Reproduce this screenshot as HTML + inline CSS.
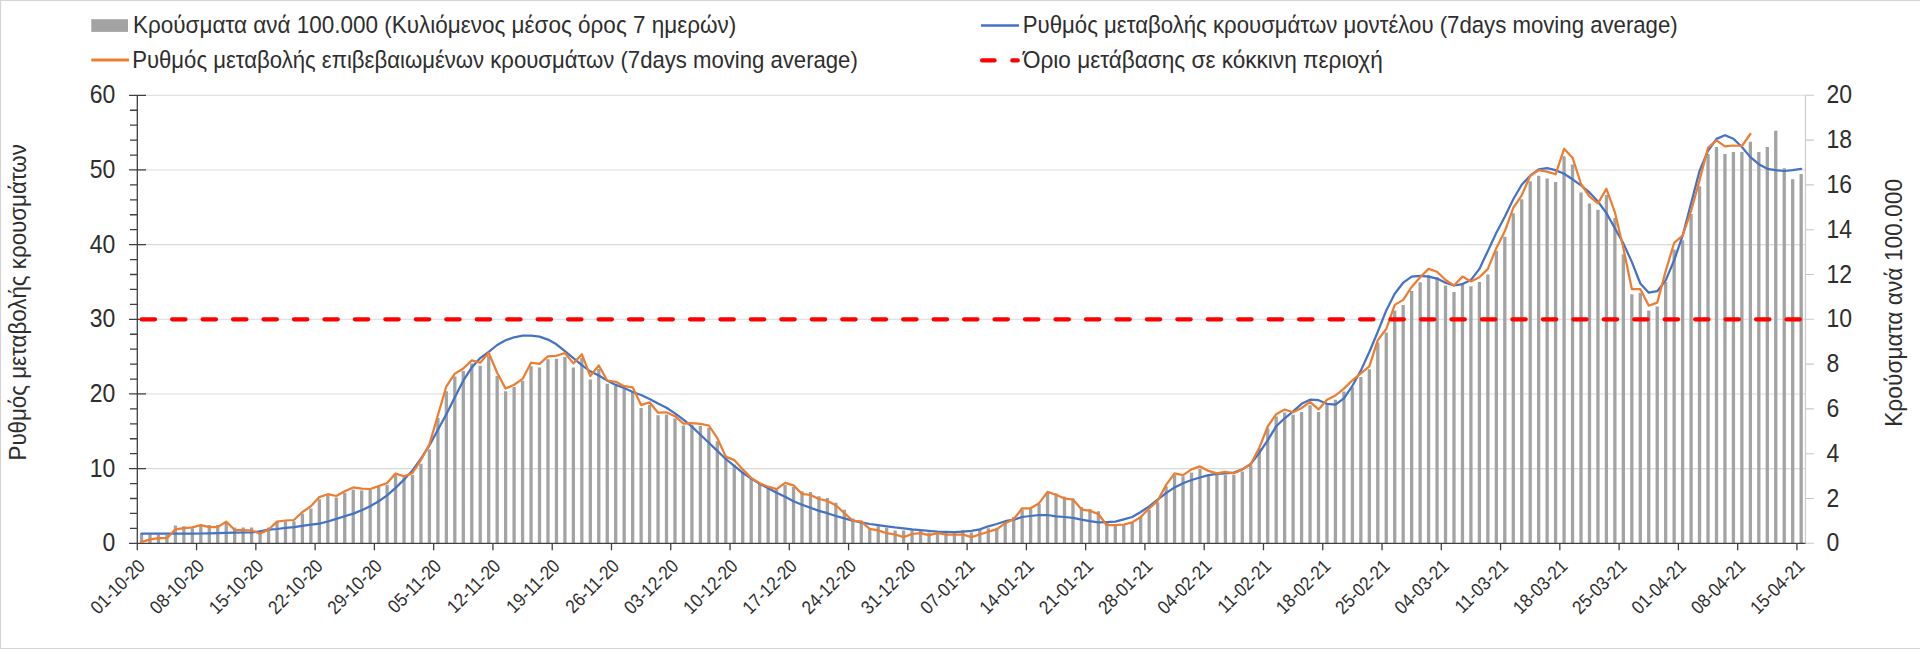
<!DOCTYPE html>
<html><head><meta charset="utf-8"><style>html,body{margin:0;padding:0;background:#fff;width:1920px;height:649px;overflow:hidden}</style></head>
<body><svg width="1920" height="649" viewBox="0 0 1920 649" style="display:block">
<rect x="0" y="0" width="1920" height="649" fill="#fff"/>
<path d="M0.5 649 V0.5 H1920" fill="none" stroke="#d4d4d4" stroke-width="1.2"/>
<path d="M0 648.5 H1920" fill="none" stroke="#d4d4d4" stroke-width="1.2"/>
<path d="M137.3 468.63H1805.4M137.3 393.97H1805.4M137.3 319.30H1805.4M137.3 244.63H1805.4M137.3 169.97H1805.4M137.3 95.30H1805.4" stroke="#d9d9d9" stroke-width="1.1" fill="none"/>
<path d="M139.88 533.60h3.3V543.3h-3.3ZM148.35 534.40h3.3V543.3h-3.3ZM156.82 534.40h3.3V543.3h-3.3ZM165.29 534.80h3.3V543.3h-3.3ZM173.75 525.60h3.3V543.3h-3.3ZM182.22 526.30h3.3V543.3h-3.3ZM190.69 528.20h3.3V543.3h-3.3ZM199.16 525.90h3.3V543.3h-3.3ZM207.62 525.10h3.3V543.3h-3.3ZM216.09 525.10h3.3V543.3h-3.3ZM224.56 523.60h3.3V543.3h-3.3ZM233.03 527.40h3.3V543.3h-3.3ZM241.49 527.40h3.3V543.3h-3.3ZM249.96 527.40h3.3V543.3h-3.3ZM258.43 530.50h3.3V543.3h-3.3ZM266.90 527.40h3.3V543.3h-3.3ZM275.36 522.00h3.3V543.3h-3.3ZM283.83 521.30h3.3V543.3h-3.3ZM292.30 521.30h3.3V543.3h-3.3ZM300.77 513.60h3.3V543.3h-3.3ZM309.23 508.50h3.3V543.3h-3.3ZM317.70 499.20h3.3V543.3h-3.3ZM326.17 495.30h3.3V543.3h-3.3ZM334.64 497.40h3.3V543.3h-3.3ZM343.10 492.70h3.3V543.3h-3.3ZM351.57 489.50h3.3V543.3h-3.3ZM360.04 490.60h3.3V543.3h-3.3ZM368.51 490.00h3.3V543.3h-3.3ZM376.97 486.90h3.3V543.3h-3.3ZM385.44 484.80h3.3V543.3h-3.3ZM393.91 474.80h3.3V543.3h-3.3ZM402.38 477.50h3.3V543.3h-3.3ZM410.84 474.80h3.3V543.3h-3.3ZM419.31 463.80h3.3V543.3h-3.3ZM427.78 449.40h3.3V543.3h-3.3ZM436.25 418.00h3.3V543.3h-3.3ZM444.71 391.30h3.3V543.3h-3.3ZM453.18 376.60h3.3V543.3h-3.3ZM461.65 370.80h3.3V543.3h-3.3ZM470.12 363.40h3.3V543.3h-3.3ZM478.58 365.70h3.3V543.3h-3.3ZM487.05 355.80h3.3V543.3h-3.3ZM495.52 376.10h3.3V543.3h-3.3ZM503.99 391.20h3.3V543.3h-3.3ZM512.45 387.00h3.3V543.3h-3.3ZM520.92 380.80h3.3V543.3h-3.3ZM529.39 366.20h3.3V543.3h-3.3ZM537.86 367.40h3.3V543.3h-3.3ZM546.32 359.30h3.3V543.3h-3.3ZM554.79 358.80h3.3V543.3h-3.3ZM563.26 357.00h3.3V543.3h-3.3ZM571.73 367.40h3.3V543.3h-3.3ZM580.19 358.10h3.3V543.3h-3.3ZM588.66 379.60h3.3V543.3h-3.3ZM597.13 369.00h3.3V543.3h-3.3ZM605.60 383.80h3.3V543.3h-3.3ZM614.06 386.10h3.3V543.3h-3.3ZM622.53 388.50h3.3V543.3h-3.3ZM631.00 391.30h3.3V543.3h-3.3ZM639.47 408.10h3.3V543.3h-3.3ZM647.93 404.70h3.3V543.3h-3.3ZM656.40 415.30h3.3V543.3h-3.3ZM664.87 414.40h3.3V543.3h-3.3ZM673.34 418.50h3.3V543.3h-3.3ZM681.80 425.50h3.3V543.3h-3.3ZM690.27 425.00h3.3V543.3h-3.3ZM698.74 425.90h3.3V543.3h-3.3ZM707.21 427.80h3.3V543.3h-3.3ZM715.67 441.20h3.3V543.3h-3.3ZM724.14 456.60h3.3V543.3h-3.3ZM732.61 464.70h3.3V543.3h-3.3ZM741.08 472.80h3.3V543.3h-3.3ZM749.54 478.60h3.3V543.3h-3.3ZM758.01 483.70h3.3V543.3h-3.3ZM766.48 489.00h3.3V543.3h-3.3ZM774.95 489.70h3.3V543.3h-3.3ZM783.41 485.10h3.3V543.3h-3.3ZM791.88 487.00h3.3V543.3h-3.3ZM800.35 491.30h3.3V543.3h-3.3ZM808.82 491.90h3.3V543.3h-3.3ZM817.28 496.20h3.3V543.3h-3.3ZM825.75 498.10h3.3V543.3h-3.3ZM834.22 502.70h3.3V543.3h-3.3ZM842.69 509.80h3.3V543.3h-3.3ZM851.15 518.60h3.3V543.3h-3.3ZM859.62 520.60h3.3V543.3h-3.3ZM868.09 528.60h3.3V543.3h-3.3ZM876.56 526.30h3.3V543.3h-3.3ZM885.02 527.80h3.3V543.3h-3.3ZM893.49 530.40h3.3V543.3h-3.3ZM901.96 530.40h3.3V543.3h-3.3ZM910.43 529.80h3.3V543.3h-3.3ZM918.89 530.90h3.3V543.3h-3.3ZM927.36 532.40h3.3V543.3h-3.3ZM935.83 532.40h3.3V543.3h-3.3ZM944.30 532.80h3.3V543.3h-3.3ZM952.76 531.30h3.3V543.3h-3.3ZM961.23 530.10h3.3V543.3h-3.3ZM969.70 532.40h3.3V543.3h-3.3ZM978.17 530.10h3.3V543.3h-3.3ZM986.64 528.30h3.3V543.3h-3.3ZM995.10 527.80h3.3V543.3h-3.3ZM1003.57 521.20h3.3V543.3h-3.3ZM1012.04 517.00h3.3V543.3h-3.3ZM1020.51 509.80h3.3V543.3h-3.3ZM1028.97 508.60h3.3V543.3h-3.3ZM1037.44 503.90h3.3V543.3h-3.3ZM1045.91 493.10h3.3V543.3h-3.3ZM1054.38 493.50h3.3V543.3h-3.3ZM1062.84 496.50h3.3V543.3h-3.3ZM1071.31 498.50h3.3V543.3h-3.3ZM1079.78 507.00h3.3V543.3h-3.3ZM1088.25 508.90h3.3V543.3h-3.3ZM1096.71 511.30h3.3V543.3h-3.3ZM1105.18 522.40h3.3V543.3h-3.3ZM1113.65 524.70h3.3V543.3h-3.3ZM1122.12 524.20h3.3V543.3h-3.3ZM1130.58 521.90h3.3V543.3h-3.3ZM1139.05 517.00h3.3V543.3h-3.3ZM1147.52 509.60h3.3V543.3h-3.3ZM1155.99 502.20h3.3V543.3h-3.3ZM1164.45 486.20h3.3V543.3h-3.3ZM1172.92 475.10h3.3V543.3h-3.3ZM1181.39 476.30h3.3V543.3h-3.3ZM1189.86 472.60h3.3V543.3h-3.3ZM1198.32 468.90h3.3V543.3h-3.3ZM1206.79 475.10h3.3V543.3h-3.3ZM1215.26 475.10h3.3V543.3h-3.3ZM1223.73 475.10h3.3V543.3h-3.3ZM1232.19 475.10h3.3V543.3h-3.3ZM1240.66 471.40h3.3V543.3h-3.3ZM1249.13 465.20h3.3V543.3h-3.3ZM1257.60 448.30h3.3V543.3h-3.3ZM1266.06 428.20h3.3V543.3h-3.3ZM1274.53 416.60h3.3V543.3h-3.3ZM1283.00 412.40h3.3V543.3h-3.3ZM1291.47 414.80h3.3V543.3h-3.3ZM1299.93 412.10h3.3V543.3h-3.3ZM1308.40 405.20h3.3V543.3h-3.3ZM1316.87 412.10h3.3V543.3h-3.3ZM1325.34 403.80h3.3V543.3h-3.3ZM1333.80 399.70h3.3V543.3h-3.3ZM1342.27 391.40h3.3V543.3h-3.3ZM1350.74 387.20h3.3V543.3h-3.3ZM1359.21 376.90h3.3V543.3h-3.3ZM1367.67 369.20h3.3V543.3h-3.3ZM1376.14 342.80h3.3V543.3h-3.3ZM1384.61 332.60h3.3V543.3h-3.3ZM1393.08 310.40h3.3V543.3h-3.3ZM1401.54 304.90h3.3V543.3h-3.3ZM1410.01 291.10h3.3V543.3h-3.3ZM1418.48 282.20h3.3V543.3h-3.3ZM1426.95 275.00h3.3V543.3h-3.3ZM1435.41 277.20h3.3V543.3h-3.3ZM1443.88 285.50h3.3V543.3h-3.3ZM1452.35 291.90h3.3V543.3h-3.3ZM1460.82 283.60h3.3V543.3h-3.3ZM1469.28 286.30h3.3V543.3h-3.3ZM1477.75 281.90h3.3V543.3h-3.3ZM1486.22 274.40h3.3V543.3h-3.3ZM1494.69 250.90h3.3V543.3h-3.3ZM1503.15 236.80h3.3V543.3h-3.3ZM1511.62 213.30h3.3V543.3h-3.3ZM1520.09 199.30h3.3V543.3h-3.3ZM1528.56 181.30h3.3V543.3h-3.3ZM1537.02 175.70h3.3V543.3h-3.3ZM1545.49 178.50h3.3V543.3h-3.3ZM1553.96 182.10h3.3V543.3h-3.3ZM1562.43 156.30h3.3V543.3h-3.3ZM1570.89 164.60h3.3V543.3h-3.3ZM1579.36 192.40h3.3V543.3h-3.3ZM1587.83 203.40h3.3V543.3h-3.3ZM1596.30 209.80h3.3V543.3h-3.3ZM1604.76 195.10h3.3V543.3h-3.3ZM1613.23 218.10h3.3V543.3h-3.3ZM1621.70 254.20h3.3V543.3h-3.3ZM1630.17 294.30h3.3V543.3h-3.3ZM1638.63 292.70h3.3V543.3h-3.3ZM1647.10 310.60h3.3V543.3h-3.3ZM1655.57 306.60h3.3V543.3h-3.3ZM1664.04 281.90h3.3V543.3h-3.3ZM1672.50 249.50h3.3V543.3h-3.3ZM1680.97 240.30h3.3V543.3h-3.3ZM1689.44 214.10h3.3V543.3h-3.3ZM1697.91 186.30h3.3V543.3h-3.3ZM1706.37 153.90h3.3V543.3h-3.3ZM1714.84 147.10h3.3V543.3h-3.3ZM1723.31 153.90h3.3V543.3h-3.3ZM1731.78 152.10h3.3V543.3h-3.3ZM1740.24 152.10h3.3V543.3h-3.3ZM1748.71 141.80h3.3V543.3h-3.3ZM1757.18 152.10h3.3V543.3h-3.3ZM1765.65 147.00h3.3V543.3h-3.3ZM1774.11 130.70h3.3V543.3h-3.3ZM1782.58 168.20h3.3V543.3h-3.3ZM1791.05 179.30h3.3V543.3h-3.3ZM1799.52 174.10h3.3V543.3h-3.3Z" fill="#a3a3a3"/>
<path d="M1805.4 95.3V543.3" stroke="#c8c8c8" stroke-width="1.1" fill="none"/>
<path d="M1805.4 543.30h8.5M1805.4 498.50h8.5M1805.4 453.70h8.5M1805.4 408.90h8.5M1805.4 364.10h8.5M1805.4 319.30h8.5M1805.4 274.50h8.5M1805.4 229.70h8.5M1805.4 184.90h8.5M1805.4 140.10h8.5M1805.4 95.30h8.5" stroke="#c8c8c8" stroke-width="1.1" fill="none"/>
<path d="M137.3 95.3V543.3M129 543.30H137.3M130 528.37H137.3M130 513.43H137.3M130 498.50H137.3M130 483.57H137.3M129 468.63H146M130 453.70H137.3M130 438.77H137.3M130 423.83H137.3M130 408.90H137.3M129 393.97H146M130 379.03H137.3M130 364.10H137.3M130 349.17H137.3M130 334.23H137.3M129 319.30H146M130 304.37H137.3M130 289.43H137.3M130 274.50H137.3M130 259.57H137.3M129 244.63H146M130 229.70H137.3M130 214.77H137.3M130 199.83H137.3M130 184.90H137.3M129 169.97H146M130 155.03H137.3M130 140.10H137.3M130 125.17H137.3M130 110.23H137.3M129 95.30H146" stroke="#404040" stroke-width="1.3" fill="none"/>
<path d="M137.3 543.3H1805.4M137.30 543.3v7M196.57 543.3v7M255.85 543.3v7M315.12 543.3v7M374.39 543.3v7M433.66 543.3v7M492.94 543.3v7M552.21 543.3v7M611.48 543.3v7M670.75 543.3v7M730.03 543.3v7M789.30 543.3v7M848.57 543.3v7M907.84 543.3v7M967.12 543.3v7M1026.39 543.3v7M1085.66 543.3v7M1144.93 543.3v7M1204.21 543.3v7M1263.48 543.3v7M1322.75 543.3v7M1382.02 543.3v7M1441.30 543.3v7M1500.57 543.3v7M1559.84 543.3v7M1619.11 543.3v7M1678.39 543.3v7M1737.66 543.3v7M1796.93 543.3v7" stroke="#404040" stroke-width="1.3" fill="none"/>
<polyline points="141.53,533.60 150.00,533.60 158.47,533.60 166.94,533.60 175.40,533.60 183.87,533.60 192.34,533.60 200.81,533.50 209.27,533.30 217.74,533.10 226.21,532.90 234.68,532.70 243.14,532.50 251.61,532.30 260.08,531.30 268.55,529.70 277.01,529.00 285.48,527.90 293.95,527.10 302.42,525.90 310.88,524.60 319.35,523.60 327.82,521.50 336.29,518.90 344.75,516.20 353.22,513.60 361.69,510.20 370.16,506.30 378.62,501.30 387.09,495.30 395.56,487.90 404.03,479.60 412.49,470.40 420.96,458.60 429.43,445.50 437.90,429.80 446.36,414.30 454.83,397.30 463.30,380.70 471.77,367.40 480.23,358.10 488.70,351.90 497.17,345.00 505.64,340.30 514.10,337.30 522.57,335.70 531.04,335.70 539.51,336.60 547.97,339.60 556.44,344.30 564.91,351.20 573.38,358.10 581.84,365.10 590.31,371.30 598.78,375.50 607.25,380.50 615.71,384.90 624.18,388.00 632.65,392.00 641.12,395.00 649.58,398.90 658.05,403.50 666.52,407.70 674.99,413.40 683.45,419.70 691.92,426.60 700.39,434.70 708.86,442.80 717.32,450.90 725.79,459.00 734.26,465.90 742.73,472.80 751.19,478.60 759.66,483.70 768.13,488.30 776.60,492.70 785.06,496.80 793.53,501.30 802.00,504.70 810.47,507.80 818.93,510.90 827.40,513.20 835.87,516.00 844.34,518.30 852.80,520.60 861.27,522.40 869.74,524.00 878.21,525.20 886.67,526.30 895.14,527.40 903.61,528.30 912.08,529.40 920.54,530.10 929.01,530.90 937.48,531.70 945.95,531.90 954.41,532.20 962.88,531.70 971.35,530.90 979.82,529.40 988.29,526.30 996.75,524.00 1005.22,521.20 1013.69,519.70 1022.16,517.00 1030.62,516.00 1039.09,515.00 1047.56,515.00 1056.03,516.30 1064.49,517.00 1072.96,517.80 1081.43,519.70 1089.90,521.20 1098.36,522.40 1106.83,522.10 1115.30,521.70 1123.77,519.40 1132.23,517.00 1140.70,512.00 1149.17,506.40 1157.64,499.70 1166.10,493.10 1174.57,487.40 1183.04,483.20 1191.51,480.00 1199.97,477.50 1208.44,475.10 1216.91,473.80 1225.38,473.30 1233.84,472.60 1242.31,469.40 1250.78,464.00 1259.25,452.90 1267.71,440.30 1276.18,426.30 1284.65,418.30 1293.12,411.30 1301.58,403.80 1310.05,399.70 1318.52,400.20 1326.99,403.80 1335.45,404.70 1343.92,398.30 1352.39,385.80 1360.86,370.60 1369.32,352.00 1377.79,331.80 1386.26,310.40 1394.73,293.80 1403.19,282.70 1411.66,276.60 1420.13,275.80 1428.60,276.60 1437.06,278.60 1445.53,282.70 1454.00,285.50 1462.47,284.10 1470.93,280.00 1479.40,268.90 1487.87,250.90 1496.34,232.80 1504.80,216.80 1513.27,199.30 1521.74,184.80 1530.21,175.70 1538.67,169.40 1547.14,168.20 1555.61,170.20 1564.08,173.80 1572.54,179.30 1581.01,185.40 1589.48,192.40 1597.95,201.50 1606.41,213.10 1614.88,228.30 1623.35,243.40 1631.82,261.90 1640.28,283.50 1648.75,292.70 1657.22,291.20 1665.69,280.40 1674.15,260.30 1682.62,235.70 1691.09,203.30 1699.56,170.90 1708.02,150.80 1716.49,138.90 1724.96,135.20 1733.43,138.70 1741.89,147.00 1750.36,157.10 1758.83,164.20 1767.30,168.80 1775.76,170.10 1784.23,171.00 1792.70,170.10 1801.17,168.80" fill="none" stroke="#4472c4" stroke-width="2.25" stroke-linejoin="round" stroke-linecap="round"/>
<polyline points="141.53,542.10 150.00,539.40 158.47,538.20 166.94,538.20 175.40,529.30 183.87,528.20 192.34,527.40 200.81,525.10 209.27,527.10 217.74,527.10 226.21,521.60 234.68,530.00 243.14,530.20 251.61,530.50 260.08,533.60 268.55,529.70 277.01,521.60 285.48,520.50 293.95,520.00 302.42,512.00 310.88,506.30 319.35,497.10 327.82,494.20 336.29,496.00 344.75,491.30 353.22,487.40 361.69,488.70 370.16,489.00 378.62,486.10 387.09,483.00 395.56,473.50 404.03,476.40 412.49,473.00 420.96,459.90 429.43,444.20 437.90,415.30 446.36,386.30 454.83,373.60 463.30,368.50 471.77,360.40 480.23,362.70 488.70,352.80 497.17,372.70 505.64,388.60 514.10,384.70 522.57,378.90 531.04,362.70 539.51,363.90 547.97,356.30 556.44,355.80 564.91,353.00 573.38,363.40 581.84,354.20 590.31,376.10 598.78,365.50 607.25,380.50 615.71,381.80 624.18,386.20 632.65,387.30 641.12,405.10 649.58,402.30 658.05,412.70 666.52,412.30 674.99,416.20 683.45,423.60 691.92,423.10 700.39,423.80 708.86,425.50 717.32,438.20 725.79,456.60 734.26,460.10 742.73,469.40 751.19,477.90 759.66,483.20 768.13,486.70 776.60,489.10 785.06,482.80 793.53,485.40 802.00,493.90 810.47,495.00 818.93,499.00 827.40,500.90 835.87,505.20 844.34,513.20 852.80,520.60 861.27,521.70 869.74,528.90 878.21,530.40 886.67,533.20 895.14,534.50 903.61,537.10 912.08,534.00 920.54,533.20 929.01,535.10 937.48,533.20 945.95,534.50 954.41,534.50 962.88,534.50 971.35,537.10 979.82,534.50 988.29,531.70 996.75,529.40 1005.22,523.20 1013.69,519.30 1022.16,508.30 1030.62,508.30 1039.09,503.20 1047.56,491.90 1056.03,494.70 1064.49,498.50 1072.96,499.60 1081.43,509.30 1089.90,510.90 1098.36,514.00 1106.83,525.20 1115.30,525.20 1123.77,524.50 1132.23,522.40 1140.70,517.00 1149.17,508.30 1157.64,500.90 1166.10,484.90 1174.57,473.30 1183.04,475.10 1191.51,469.40 1199.97,466.40 1208.44,470.90 1216.91,473.30 1225.38,471.90 1233.84,473.30 1242.31,469.40 1250.78,464.00 1259.25,447.90 1267.71,426.50 1276.18,414.20 1284.65,409.50 1293.12,412.30 1301.58,408.00 1310.05,401.90 1318.52,409.40 1326.99,399.70 1335.45,395.50 1343.92,388.60 1352.39,380.30 1360.86,373.30 1369.32,366.40 1377.79,340.10 1386.26,329.00 1394.73,304.90 1403.19,299.90 1411.66,286.90 1420.13,277.20 1428.60,268.90 1437.06,271.70 1445.53,280.00 1454.00,285.50 1462.47,276.60 1470.93,281.40 1479.40,277.20 1487.87,268.90 1496.34,248.10 1504.80,231.30 1513.27,207.80 1521.74,195.30 1530.21,175.70 1538.67,170.20 1547.14,171.60 1555.61,174.30 1564.08,148.80 1572.54,157.70 1581.01,184.00 1589.48,196.50 1597.95,203.40 1606.41,188.80 1614.88,212.30 1623.35,248.00 1631.82,289.00 1640.28,289.00 1648.75,305.70 1657.22,302.60 1665.69,271.10 1674.15,242.80 1682.62,235.70 1691.09,211.00 1699.56,180.10 1708.02,147.80 1716.49,140.30 1724.96,146.40 1733.43,145.50 1741.89,146.00 1750.36,134.00" fill="none" stroke="#ed7d31" stroke-width="2.25" stroke-linejoin="round" stroke-linecap="round"/>
<path d="M141.65 319.30H1801" stroke="#ff0000" stroke-width="4.2" stroke-dasharray="13.4 17.06" stroke-linecap="round" fill="none"/>
<text transform="translate(115.30 551.30) scale(1 1.12)" text-anchor="end" font-size="23.0" fill="#2e2e2e" font-family='"Liberation Sans", sans-serif'>0</text>
<text transform="translate(115.30 476.63) scale(1 1.12)" text-anchor="end" font-size="23.0" fill="#2e2e2e" font-family='"Liberation Sans", sans-serif'>10</text>
<text transform="translate(115.30 401.97) scale(1 1.12)" text-anchor="end" font-size="23.0" fill="#2e2e2e" font-family='"Liberation Sans", sans-serif'>20</text>
<text transform="translate(115.30 327.30) scale(1 1.12)" text-anchor="end" font-size="23.0" fill="#2e2e2e" font-family='"Liberation Sans", sans-serif'>30</text>
<text transform="translate(115.30 252.63) scale(1 1.12)" text-anchor="end" font-size="23.0" fill="#2e2e2e" font-family='"Liberation Sans", sans-serif'>40</text>
<text transform="translate(115.30 177.97) scale(1 1.12)" text-anchor="end" font-size="23.0" fill="#2e2e2e" font-family='"Liberation Sans", sans-serif'>50</text>
<text transform="translate(115.30 103.30) scale(1 1.12)" text-anchor="end" font-size="23.0" fill="#2e2e2e" font-family='"Liberation Sans", sans-serif'>60</text>
<text transform="translate(1826.50 551.30) scale(1 1.12)" font-size="23.0" fill="#2e2e2e" font-family='"Liberation Sans", sans-serif'>0</text>
<text transform="translate(1826.50 506.50) scale(1 1.12)" font-size="23.0" fill="#2e2e2e" font-family='"Liberation Sans", sans-serif'>2</text>
<text transform="translate(1826.50 461.70) scale(1 1.12)" font-size="23.0" fill="#2e2e2e" font-family='"Liberation Sans", sans-serif'>4</text>
<text transform="translate(1826.50 416.90) scale(1 1.12)" font-size="23.0" fill="#2e2e2e" font-family='"Liberation Sans", sans-serif'>6</text>
<text transform="translate(1826.50 372.10) scale(1 1.12)" font-size="23.0" fill="#2e2e2e" font-family='"Liberation Sans", sans-serif'>8</text>
<text transform="translate(1826.50 327.30) scale(1 1.12)" font-size="23.0" fill="#2e2e2e" font-family='"Liberation Sans", sans-serif'>10</text>
<text transform="translate(1826.50 282.50) scale(1 1.12)" font-size="23.0" fill="#2e2e2e" font-family='"Liberation Sans", sans-serif'>12</text>
<text transform="translate(1826.50 237.70) scale(1 1.12)" font-size="23.0" fill="#2e2e2e" font-family='"Liberation Sans", sans-serif'>14</text>
<text transform="translate(1826.50 192.90) scale(1 1.12)" font-size="23.0" fill="#2e2e2e" font-family='"Liberation Sans", sans-serif'>16</text>
<text transform="translate(1826.50 148.10) scale(1 1.12)" font-size="23.0" fill="#2e2e2e" font-family='"Liberation Sans", sans-serif'>18</text>
<text transform="translate(1826.50 103.30) scale(1 1.12)" font-size="23.0" fill="#2e2e2e" font-family='"Liberation Sans", sans-serif'>20</text>
<text transform="translate(146.10 567.30) rotate(-45) scale(1 1.12)" text-anchor="end" font-size="16.9" fill="#2e2e2e" font-family='"Liberation Sans", sans-serif'>01-10-20</text>
<text transform="translate(205.37 567.30) rotate(-45) scale(1 1.12)" text-anchor="end" font-size="16.9" fill="#2e2e2e" font-family='"Liberation Sans", sans-serif'>08-10-20</text>
<text transform="translate(264.65 567.30) rotate(-45) scale(1 1.12)" text-anchor="end" font-size="16.9" fill="#2e2e2e" font-family='"Liberation Sans", sans-serif'>15-10-20</text>
<text transform="translate(323.92 567.30) rotate(-45) scale(1 1.12)" text-anchor="end" font-size="16.9" fill="#2e2e2e" font-family='"Liberation Sans", sans-serif'>22-10-20</text>
<text transform="translate(383.19 567.30) rotate(-45) scale(1 1.12)" text-anchor="end" font-size="16.9" fill="#2e2e2e" font-family='"Liberation Sans", sans-serif'>29-10-20</text>
<text transform="translate(442.46 567.30) rotate(-45) scale(1 1.12)" text-anchor="end" font-size="16.9" fill="#2e2e2e" font-family='"Liberation Sans", sans-serif'>05-11-20</text>
<text transform="translate(501.74 567.30) rotate(-45) scale(1 1.12)" text-anchor="end" font-size="16.9" fill="#2e2e2e" font-family='"Liberation Sans", sans-serif'>12-11-20</text>
<text transform="translate(561.01 567.30) rotate(-45) scale(1 1.12)" text-anchor="end" font-size="16.9" fill="#2e2e2e" font-family='"Liberation Sans", sans-serif'>19-11-20</text>
<text transform="translate(620.28 567.30) rotate(-45) scale(1 1.12)" text-anchor="end" font-size="16.9" fill="#2e2e2e" font-family='"Liberation Sans", sans-serif'>26-11-20</text>
<text transform="translate(679.55 567.30) rotate(-45) scale(1 1.12)" text-anchor="end" font-size="16.9" fill="#2e2e2e" font-family='"Liberation Sans", sans-serif'>03-12-20</text>
<text transform="translate(738.83 567.30) rotate(-45) scale(1 1.12)" text-anchor="end" font-size="16.9" fill="#2e2e2e" font-family='"Liberation Sans", sans-serif'>10-12-20</text>
<text transform="translate(798.10 567.30) rotate(-45) scale(1 1.12)" text-anchor="end" font-size="16.9" fill="#2e2e2e" font-family='"Liberation Sans", sans-serif'>17-12-20</text>
<text transform="translate(857.37 567.30) rotate(-45) scale(1 1.12)" text-anchor="end" font-size="16.9" fill="#2e2e2e" font-family='"Liberation Sans", sans-serif'>24-12-20</text>
<text transform="translate(916.64 567.30) rotate(-45) scale(1 1.12)" text-anchor="end" font-size="16.9" fill="#2e2e2e" font-family='"Liberation Sans", sans-serif'>31-12-20</text>
<text transform="translate(975.92 567.30) rotate(-45) scale(1 1.12)" text-anchor="end" font-size="16.9" fill="#2e2e2e" font-family='"Liberation Sans", sans-serif'>07-01-21</text>
<text transform="translate(1035.19 567.30) rotate(-45) scale(1 1.12)" text-anchor="end" font-size="16.9" fill="#2e2e2e" font-family='"Liberation Sans", sans-serif'>14-01-21</text>
<text transform="translate(1094.46 567.30) rotate(-45) scale(1 1.12)" text-anchor="end" font-size="16.9" fill="#2e2e2e" font-family='"Liberation Sans", sans-serif'>21-01-21</text>
<text transform="translate(1153.73 567.30) rotate(-45) scale(1 1.12)" text-anchor="end" font-size="16.9" fill="#2e2e2e" font-family='"Liberation Sans", sans-serif'>28-01-21</text>
<text transform="translate(1213.01 567.30) rotate(-45) scale(1 1.12)" text-anchor="end" font-size="16.9" fill="#2e2e2e" font-family='"Liberation Sans", sans-serif'>04-02-21</text>
<text transform="translate(1272.28 567.30) rotate(-45) scale(1 1.12)" text-anchor="end" font-size="16.9" fill="#2e2e2e" font-family='"Liberation Sans", sans-serif'>11-02-21</text>
<text transform="translate(1331.55 567.30) rotate(-45) scale(1 1.12)" text-anchor="end" font-size="16.9" fill="#2e2e2e" font-family='"Liberation Sans", sans-serif'>18-02-21</text>
<text transform="translate(1390.82 567.30) rotate(-45) scale(1 1.12)" text-anchor="end" font-size="16.9" fill="#2e2e2e" font-family='"Liberation Sans", sans-serif'>25-02-21</text>
<text transform="translate(1450.10 567.30) rotate(-45) scale(1 1.12)" text-anchor="end" font-size="16.9" fill="#2e2e2e" font-family='"Liberation Sans", sans-serif'>04-03-21</text>
<text transform="translate(1509.37 567.30) rotate(-45) scale(1 1.12)" text-anchor="end" font-size="16.9" fill="#2e2e2e" font-family='"Liberation Sans", sans-serif'>11-03-21</text>
<text transform="translate(1568.64 567.30) rotate(-45) scale(1 1.12)" text-anchor="end" font-size="16.9" fill="#2e2e2e" font-family='"Liberation Sans", sans-serif'>18-03-21</text>
<text transform="translate(1627.91 567.30) rotate(-45) scale(1 1.12)" text-anchor="end" font-size="16.9" fill="#2e2e2e" font-family='"Liberation Sans", sans-serif'>25-03-21</text>
<text transform="translate(1687.19 567.30) rotate(-45) scale(1 1.12)" text-anchor="end" font-size="16.9" fill="#2e2e2e" font-family='"Liberation Sans", sans-serif'>01-04-21</text>
<text transform="translate(1746.46 567.30) rotate(-45) scale(1 1.12)" text-anchor="end" font-size="16.9" fill="#2e2e2e" font-family='"Liberation Sans", sans-serif'>08-04-21</text>
<text transform="translate(1805.73 567.30) rotate(-45) scale(1 1.12)" text-anchor="end" font-size="16.9" fill="#2e2e2e" font-family='"Liberation Sans", sans-serif'>15-04-21</text>
<text transform="translate(25.80 460.50) rotate(-90) scale(1 1.06)" font-size="22.34" fill="#2e2e2e" font-family='"Liberation Sans", sans-serif'>Ρυθμός μεταβολής κρουσμάτων</text>
<text transform="translate(1901.80 426.80) rotate(-90) scale(1 1.06)" font-size="22.75" fill="#2e2e2e" font-family='"Liberation Sans", sans-serif'>Κρούσματα ανά 100.000</text>
<rect x="91.3" y="19.2" width="36.7" height="12.7" fill="#a3a3a3"/>
<text transform="translate(133.00 32.80) scale(1 1.06)" font-size="22.5" fill="#2e2e2e" font-family='"Liberation Sans", sans-serif'>Κρούσματα ανά 100.000 (Κυλιόμενος μέσος όρος 7 ημερών)</text>
<path d="M91.3 60.1H129" stroke="#ed7d31" stroke-width="3"/>
<text transform="translate(132.20 67.50) scale(1 1.06)" font-size="22.14" fill="#2e2e2e" font-family='"Liberation Sans", sans-serif'>Ρυθμός μεταβολής επιβεβαιωμένων κρουσμάτων (7days moving average)</text>
<path d="M981 25.5H1019" stroke="#4472c4" stroke-width="2.6"/>
<text transform="translate(1022.80 32.80) scale(1 1.06)" font-size="22.2" fill="#2e2e2e" font-family='"Liberation Sans", sans-serif'>Ρυθμός μεταβολής κρουσμάτων μοντέλου (7days moving average)</text>
<path d="M982.1 60.4H994.6M1012.3 60.4H1017.8" stroke="#ff0000" stroke-width="4.2" stroke-linecap="round"/>
<text transform="translate(1023.00 67.50) scale(1 1.06)" font-size="22.58" fill="#2e2e2e" font-family='"Liberation Sans", sans-serif'>Όριο μετάβασης σε κόκκινη περιοχή</text>
</svg></body></html>
